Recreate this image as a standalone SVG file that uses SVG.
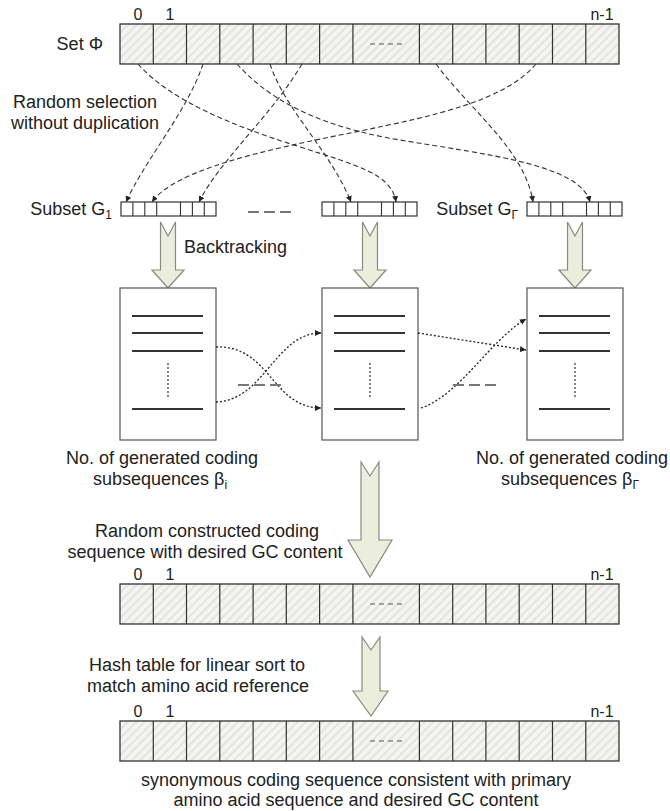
<svg xmlns="http://www.w3.org/2000/svg" xmlns:xlink="http://www.w3.org/1999/xlink" width="670" height="811" viewBox="0 0 670 811">
<defs>
  <pattern id="hatch" patternUnits="userSpaceOnUse" width="6" height="6" patternTransform="rotate(45)">
    <rect width="6" height="6" fill="#f4f4f2"/>
    <line x1="1" y1="0" x2="1" y2="6" stroke="#dcdcd8" stroke-width="1.4"/>
  </pattern>
  <marker id="tip" markerUnits="userSpaceOnUse" markerWidth="7" markerHeight="7" refX="6" refY="3" orient="auto">
    <path d="M0,0 L6,3 L0,6 z" fill="#222"/>
  </marker>
  <!-- a full coding sequence of n cells, drawn with its top edge at y=0 -->
  <g id="seqArray">
    <rect x="120" y="0" width="499" height="40" fill="url(#hatch)" stroke="#333" stroke-width="1.3"/>
    <path d="M153.3,0v40 M186.5,0v40 M219.8,0v40 M253.1,0v40 M286.3,0v40 M319.6,0v40 M352.9,0v40 M419.4,0v40 M452.7,0v40 M485.9,0v40 M519.2,0v40 M552.5,0v40 M585.8,0v40" stroke="#333" stroke-width="1.2" fill="none"/>
    <line x1="370" y1="20" x2="404" y2="20" stroke="#888" stroke-width="1.3" stroke-dasharray="5,4"/>
  </g>
  <!-- a short subset array, left edge at x=0 -->
  <g id="subArray">
    <rect x="0" y="0" width="95" height="14" fill="#fff" stroke="#333" stroke-width="1.2"/>
    <path d="M11.9,0v14 M23.8,0v14 M35.7,0v14 M59.5,0v14 M71.4,0v14 M83.3,0v14" stroke="#333" stroke-width="1.1" fill="none"/>
  </g>
  <!-- result box of generated subsequences, left edge at x=0, top at y=0 -->
  <g id="resultBox">
    <rect x="0" y="0" width="96" height="152" fill="#fff" stroke="#555" stroke-width="1.2"/>
    <path d="M12,28h71 M12,45h71 M12,63h71 M12,121h71" stroke="#333" stroke-width="2" fill="none"/>
    <line x1="48" y1="75" x2="48" y2="111" stroke="#333" stroke-width="1.2" stroke-dasharray="2,2"/>
  </g>
</defs>
<style>
  text { font-family: "Liberation Sans", Arial, sans-serif; fill: #222; }
  .lbl { font-size: 18px; }
  .idx { font-size: 16px; text-anchor: middle; }
  .mid { text-anchor: middle; }
  .end { text-anchor: end; }
  .sub { font-size: 12px; }
  .sel { fill: none; stroke: #333; stroke-width: 1.1; stroke-dasharray: 5,3; marker-end: url(#tip); }
  .xch { fill: none; stroke: #222; stroke-width: 1.3; stroke-dasharray: 2,2; marker-end: url(#tip); }
  .gap { stroke: #777; stroke-width: 2; stroke-dasharray: 11,5; }
  .block { fill: #ebeedc; stroke: #8a8a80; stroke-width: 1.2; }
</style>
<rect width="670" height="811" fill="#fff"/>

<!-- Set Phi -->
<g id="set-phi">
  <text class="idx" x="138" y="20">0</text>
  <text class="idx" x="170" y="20">1</text>
  <text class="idx" x="602" y="20">n-1</text>
  <use xlink:href="#seqArray" y="24"/>
  <text class="lbl end" x="103" y="50">Set Φ</text>
</g>

<g id="selection-label">
  <text class="lbl mid" x="85" y="108">Random selection</text>
  <text class="lbl mid" x="85" y="129">without duplication</text>
</g>

<!-- subsets -->
<g id="subset-g1">
  <text class="lbl end" x="112" y="215">Subset G<tspan class="sub" dy="4">1</tspan></text>
  <use xlink:href="#subArray" x="121" y="202"/>
</g>
<line class="gap" x1="248" y1="212" x2="294" y2="212"/>
<g id="subset-mid">
  <use xlink:href="#subArray" x="322" y="202"/>
</g>
<g id="subset-gr">
  <text class="lbl end" x="518" y="215">Subset G<tspan class="sub" dy="4">Γ</tspan></text>
  <use xlink:href="#subArray" x="527" y="202"/>
</g>

<!-- random selection connectors -->
<g id="selection-connectors">
  <path class="sel" d="M203,64 C188,110 145,160 126,202"/>
  <path class="sel" d="M302,64 C272,115 220,160 199,202"/>
  <path class="sel" d="M536,64 C505,100 440,115 350,133 C260,151 175,170 152,202"/>
  <path class="sel" d="M270,64 C285,110 330,150 351,202"/>
  <path class="sel" d="M138,64 C170,100 230,125 300,147 C360,166 392,175 396,202"/>
  <path class="sel" d="M237,64 C265,95 310,125 400,140 C490,155 580,165 590,202"/>
  <path class="sel" d="M436,64 C470,110 525,150 533,202"/>
</g>

<!-- backtracking arrows -->
<g id="backtrack-arrows">
  <path class="block" d="M160.5,222 L168,236 L175.5,222 L175.5,270 L184,270 L168,288 L152,270 L160.5,270 Z"/>
  <path class="block" d="M362.5,222 L370,236 L377.5,222 L377.5,270 L386,270 L370,288 L354,270 L362.5,270 Z"/>
  <path class="block" d="M567.5,222 L575,236 L582.5,222 L582.5,270 L591,270 L575,288 L559,270 L567.5,270 Z"/>
  <text class="lbl" x="184" y="253">Backtracking</text>
</g>

<!-- result boxes -->
<g id="box-1"><use xlink:href="#resultBox" x="120" y="288"/></g>
<g id="box-2"><use xlink:href="#resultBox" x="322" y="288"/></g>
<g id="box-3"><use xlink:href="#resultBox" x="527" y="288"/></g>

<!-- exchanges between boxes -->
<g id="exchange-connectors">
  <path class="xch" d="M216,347 C270,345 272,408 321,408"/>
  <path class="xch" d="M216,402 C265,400 275,333 321,333"/>
  <path class="xch" d="M418,333 L526,350"/>
  <path class="xch" d="M421,408 C460,395 490,340 526,319"/>
  <line class="gap" x1="238" y1="385" x2="284" y2="385"/>
  <line class="gap" x1="453" y1="385" x2="499" y2="385"/>
</g>

<g id="count-labels">
  <text class="lbl mid" x="162" y="464">No. of generated coding</text>
  <text class="lbl mid" x="160" y="485">subsequences β<tspan class="sub" dy="4">i</tspan></text>
  <text class="lbl mid" x="572" y="464">No. of generated coding</text>
  <text class="lbl mid" x="570" y="485">subsequences β<tspan class="sub" dy="4">Γ</tspan></text>
</g>

<!-- merge into the constructed sequence -->
<g id="merge-arrow">
  <path class="block" d="M361,462 L370,476 L379,462 L379,540 L392,540 L370,577 L348,540 L361,540 Z"/>
  <text class="lbl mid" x="207" y="537">Random constructed coding</text>
  <text class="lbl mid" x="205" y="558">sequence with desired GC content</text>
</g>

<g id="constructed-seq">
  <text class="idx" x="138" y="580">0</text>
  <text class="idx" x="170" y="580">1</text>
  <text class="idx" x="602" y="580">n-1</text>
  <use xlink:href="#seqArray" y="584"/>
</g>

<g id="hash-arrow">
  <path class="block" d="M362,637 L371,650 L380,637 L380,691 L388,691 L371,716 L353,691 L362,691 Z"/>
  <text class="lbl mid" x="197" y="671">Hash table for linear sort to</text>
  <text class="lbl mid" x="198" y="692">match amino acid reference</text>
</g>

<g id="synonymous-seq">
  <text class="idx" x="138" y="717">0</text>
  <text class="idx" x="170" y="717">1</text>
  <text class="idx" x="602" y="717">n-1</text>
  <use xlink:href="#seqArray" y="721"/>
  <text class="lbl mid" x="356" y="786">synonymous coding sequence consistent with primary</text>
  <text class="lbl mid" x="356" y="806">amino acid sequence and desired GC content</text>
</g>
</svg>
